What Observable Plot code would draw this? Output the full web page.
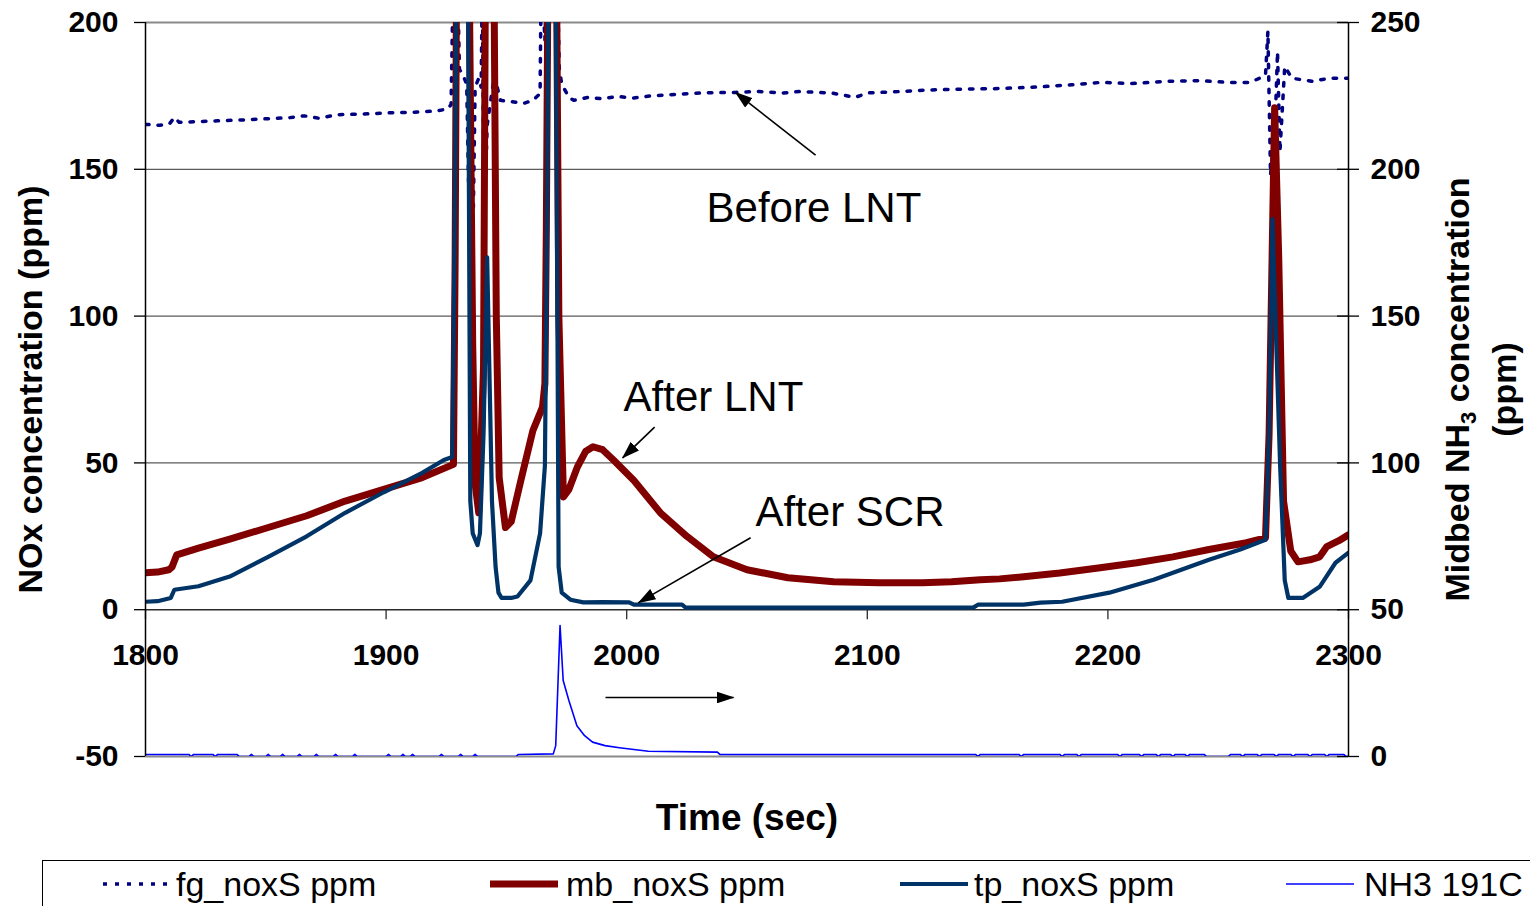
<!DOCTYPE html>
<html>
<head>
<meta charset="utf-8">
<script src="https://cdn.jsdelivr.net/npm/d3@7"></script>
<script src="https://cdn.jsdelivr.net/npm/@observablehq/plot@0.6"></script>
<style>
  html, body { margin: 0; padding: 0; background: #fff; overflow: hidden; width: 1530px; height: 906px; }
  #chart { position: absolute; left: 0; top: 0; }
  #legend { position: absolute; left: 42px; top: 860px; width: 1600px; height: 120px; border: 1.5px solid #000; box-sizing: border-box; background: #fff; font-family: 'Liberation Sans', Arial, sans-serif; }
  .item { position: absolute; top: 0; height: 46px; display: flex; align-items: center; }
  .item span { font-size: 34px; color: #000; white-space: nowrap; }
</style>
</head>
<body>
<div id="chart"></div>
<div id="legend"></div>
<script>
// ---------- data (time in sec, concentration in ppm) ----------
const seriesNames = ["fg_noxS ppm", "mb_noxS ppm", "tp_noxS ppm", "NH3 191C"];

// Before LNT (left axis)
const fgData = [[1800,165.3],[1806,165],[1810,165.5],[1812,167.7],[1814,166],[1820,166.2],[1830,166.5],[1840,166.8],[1850,167.2],[1860,167.6],[1866,168.2],[1872,167.4],[1880,168.6],[1890,168.8],[1900,169.2],[1910,169.4],[1920,169.8],[1925.5,170.5],[1927,172],[1928,220],[1929.5,220],[1930.5,184],[1932,182],[1933.5,179],[1935.5,93],[1937,178],[1938.5,181],[1939.5,178],[1940,215],[1940.7,128],[1942,165],[1945,182],[1947.5,173.5],[1952.5,173],[1957,172.4],[1961,173.5],[1964,175.8],[1964.5,220],[1966,194],[1967,220],[1971,220],[1972,184],[1973,179],[1976,174.5],[1978,173.5],[1984,174.5],[1990,174],[1996,174.8],[2003,174.3],[2010,175],[2020,175.5],[2031,176],[2045,176.2],[2055,176.5],[2065,176],[2072,176.5],[2085,176],[2095,174.5],[2100,176],[2114,176.5],[2125,177],[2140,177.3],[2155,177.5],[2170,178],[2185,178.8],[2197,179.6],[2210,179.2],[2225,180],[2238,180.2],[2250,179.6],[2259,179.6],[2263,181],[2265.5,182],[2266.5,197],[2267.6,148],[2269.5,165],[2270.5,190],[2271.5,156],[2273.5,185],[2276.5,181],[2285,180],[2292,181],[2300,181]];

// After LNT (left axis)
const mbData = [[1800,12.6],[1805,12.8],[1809.7,13.6],[1811,14.5],[1813,18.7],[1822,21],[1835,24],[1851,28],[1867,32],[1883,37],[1899,41],[1915,45],[1928,49.5],[1928.7,120],[1929.3,220],[1934.5,220],[1936,90],[1937,43],[1938.5,33],[1939.2,49],[1940.5,83],[1941.3,220],[1944.8,220],[1945.8,100],[1947,45],[1949.6,28],[1952,30],[1956,44],[1961,61],[1965,69],[1966,77],[1966.6,130],[1967.3,220],[1970.8,220],[1971.8,100],[1973.7,38.4],[1976,41],[1979.5,48.6],[1983,54],[1986,55.5],[1990,54.5],[1994.5,51],[2003,44],[2014,33],[2025,25],[2036,18],[2050,13.6],[2067,10.9],[2086,9.5],[2105,9.2],[2123,9.2],[2135,9.5],[2147,10.2],[2155,10.5],[2165,11.2],[2180,12.5],[2196,14.2],[2212,16],[2227,18],[2242,20.5],[2257.6,22.8],[2265.5,24.5],[2267,60],[2269.3,171],[2271,120],[2273,37],[2276,20],[2279,16.3],[2284,17],[2288,18],[2291,21.5],[2296,23.5],[2300,25.5]];

// After SCR (left axis)
const tpData = [[1800,2.7],[1805,2.9],[1810.5,4],[1812,6.8],[1822,8],[1835,11.3],[1851,18],[1867,25],[1883,33],[1899,40],[1915,46.6],[1924,51],[1927.5,52],[1928.5,130],[1929.3,220],[1934,220],[1935,37],[1936,26],[1938,22],[1939,26],[1940.5,60],[1942,120],[1944,37],[1945.5,14.6],[1946.7,5.8],[1948,4],[1952,4],[1954.6,4.5],[1960,10],[1964,26],[1966,49],[1966.8,120],[1967.5,220],[1970.5,220],[1971.7,14.6],[1973,5.8],[1976.6,3.4],[1982,2.5],[1990,2.6],[2001,2.5],[2003,1.7],[2023,1.7],[2024.5,0.7],[2060,0.7],[2100,0.7],[2144,0.7],[2146,1.7],[2165,1.7],[2172,2.4],[2181,2.7],[2200.6,5.8],[2219,10.2],[2242,17],[2255,20.5],[2265.5,23.8],[2267,60],[2268.4,133],[2270,90],[2271.6,48.7],[2273.5,10],[2275,4],[2281,4],[2288,7.8],[2294.6,16],[2300,19.4]];

// Midbed NH3 (right axis)
const nh3Data = [[1800,0.7],[1818,0.7],[1819,0],[1820,0.7],[1828,0.7],[1829,0],[1830,0.7],[1838,0.7],[1839,0],
  [1843,0],[1844,0.7],[1845,0],[1850,0],[1851,0.7],[1852,0],[1856,0],[1857,0.7],[1858,0],[1863,0],[1864,0.7],[1865,0],
  [1870,0],[1871,0.7],[1872,0],[1878,0],[1879,0.7],[1880,0],[1886,0],[1887,0.7],[1888,0],[1900,0],[1901,0.7],[1902,0],
  [1906,0],[1907,0.7],[1908,0],[1910,0],[1911,0.7],[1912,0],[1922,0],[1923,0.7],[1924,0],[1930,0],[1931,0.7],[1932,0],
  [1936,0],[1937,0.7],[1938,0],[1954,0],[1955,0.7],
  [1969.5,0.9],[1970.5,3.7],[1972.3,44.6],[1973.6,25.9],[1976,19],[1979.3,10.5],[1982.5,7.1],[1985.8,4.9],[1991,3.7],[1997,3],[2009,1.8],[2037.7,1.5],[2038.7,0.7],
  [2145,0.7],[2146,0],[2147,0.7],[2163,0.7],[2164,0],[2165,0.7],[2180,0.7],[2181,0],[2182,0.7],[2187,0.7],[2188,0],[2189,0.7],
  [2204,0.7],[2205,0],[2206,0.7],[2213,0.7],[2214,0],[2215,0.7],[2220,0.7],[2221,0],[2222,0.7],[2226,0.7],[2227,0],[2228,0.7],
  [2232,0.7],[2233,0],[2234,0.7],[2240,0.7],[2241,0],[2250,0],[2251,0.7],[2255,0.7],[2256,0],[2257,0.7],[2262,0.7],[2263,0],[2264,0.7],
  [2269,0.7],[2270,0],[2271,0.7],[2276,0.7],[2277,0],[2278,0.7],[2283,0.7],[2284,0],[2285,0.7],[2290,0.7],[2291,0],[2292,0.7],
  [2298,0.7],[2299,0],[2300,0]];

const xTicks = [1800, 1900, 2000, 2100, 2200, 2300];
const leftTicks = [-50, 0, 50, 100, 150, 200];
const rightTicks = [0, 50, 100, 150, 200, 250];
const gridLines = [50, 100, 150];
const rightOffset = 50; // right axis value = left axis value + 50

const noteLabels = [
  {text: "Before LNT", t: 2033.2, v: 136.7},
  {text: "After LNT", t: 1998.7, v: 72.4},
  {text: "After SCR", t: 2053.5, v: 33}
];
const noteArrows = [
  {t1: 2078.5, v1: 154.8, t2: 2045.2, v2: 176.2},
  {t1: 2011.6, v1: 62.2, t2: 1998.3, v2: 51.7},
  {t1: 2051.5, v1: 24.5, t2: 2004.9, v2: 2.4},
  {t1: 1991.2, v1: -29.9, t2: 2044.4, v2: -29.9}
];

// ---------- drawing ----------
const FONT = "'Liberation Sans', Arial, Helvetica, sans-serif";
const toRows = (arr) => arr.map(([t, v]) => ({t, v}));

function filledArrow(color, context) {
  const doc = (context && context.document) || document;
  const NS = "http://www.w3.org/2000/svg";
  const m = doc.createElementNS(NS, "marker");
  m.setAttribute("viewBox", "0 -6 18 12");
  m.setAttribute("markerWidth", 18);
  m.setAttribute("markerHeight", 12);
  m.setAttribute("markerUnits", "userSpaceOnUse");
  m.setAttribute("refX", 17);
  m.setAttribute("refY", 0);
  m.setAttribute("orient", "auto");
  const p = doc.createElementNS(NS, "path");
  p.setAttribute("d", "M0,-6L18,0L0,6Z");
  p.setAttribute("fill", "#000");
  p.setAttribute("stroke", "none");
  m.appendChild(p);
  return m;
}

const plot = Plot.plot({
  width: 1530,
  height: 856,
  marginLeft: 145,
  marginRight: 182,
  marginTop: 22,
  marginBottom: 100,
  x: {domain: [1800, 2300], axis: null},
  y: {domain: [-50, 200], axis: null},
  style: {fontFamily: FONT, background: "#fff", overflow: "visible"},
  marks: [
    Plot.ruleY(gridLines, {stroke: "#5a5a5a", strokeWidth: 1.2}),
    Plot.ruleY([200], {stroke: "#8a8a8a", strokeWidth: 2.2}),
    Plot.ruleY([-50], {stroke: "#8a8a8a", strokeWidth: 2.2}),
    Plot.ruleY([0], {stroke: "#2a2a2a", strokeWidth: 1.5}),
    Plot.ruleX(xTicks, {x: d => d, y1: 0, y2: 0, insetBottom: -10, stroke: "#2a2a2a", strokeWidth: 1.3}),
    Plot.ruleY(leftTicks, {y: d => d, x1: 1800, x2: 1800, insetLeft: -11, stroke: "#000", strokeWidth: 1.3}),
    Plot.ruleY(rightTicks, {y: d => d - rightOffset, x1: 2300, x2: 2300, insetLeft: -11, insetRight: -11, stroke: "#000", strokeWidth: 1.3}),

    Plot.line(toRows(fgData), {x: "t", y: "v", stroke: "#000080", strokeWidth: 3.5, strokeDasharray: "3.5,9", clip: true}),
    Plot.line(toRows(mbData), {x: "t", y: "v", stroke: "#800000", strokeWidth: 7, strokeLinejoin: "round", clip: true}),
    Plot.line(toRows(tpData), {x: "t", y: "v", stroke: "#003366", strokeWidth: 4.2, strokeLinejoin: "round", clip: true}),
    Plot.line(toRows(nh3Data), {x: "t", y: d => d.v - rightOffset, stroke: "#0000ff", strokeWidth: 1.6, clip: true}),

    Plot.text(leftTicks, {x: 1800, y: d => d, text: d => String(d), textAnchor: "end", dx: -27, fontSize: 30, fontWeight: "bold", fill: "#000"}),
    Plot.text(rightTicks, {x: 2300, y: d => d - rightOffset, text: d => String(d), textAnchor: "start", dx: 22, fontSize: 30, fontWeight: "bold", fill: "#000"}),
    Plot.text(xTicks, {x: d => d, y: 0, text: d => String(d), dy: 46, fontSize: 30, fontWeight: "bold", fill: "#000"}),

    Plot.ruleX([1800], {stroke: "#000", strokeWidth: 1.5}),
    Plot.ruleX([2300], {stroke: "#000", strokeWidth: 1.5}),

    Plot.text(["NOx concentration (ppm)"], {frameAnchor: "left", text: d => d, rotate: -90, dx: -114, textAnchor: "middle", lineAnchor: "middle", fontSize: 34, fontWeight: "bold", fill: "#000"}),
    Plot.text(["Midbed NH3 concentration"], {frameAnchor: "right", text: d => d, rotate: -90, dx: 110, textAnchor: "middle", lineAnchor: "middle", fontSize: 34, fontWeight: "bold", fill: "#000"}),
    Plot.text(["(ppm)"], {frameAnchor: "right", text: d => d, rotate: -90, dx: 157, textAnchor: "middle", lineAnchor: "middle", fontSize: 34, fontWeight: "bold", fill: "#000"}),
    Plot.text(["Time (sec)"], {frameAnchor: "bottom", text: d => d, dy: 62, textAnchor: "middle", lineAnchor: "middle", fontSize: 37, fontWeight: "bold", fill: "#000"}),

    Plot.text(noteLabels, {x: "t", y: "v", text: "text", textAnchor: "start", fontSize: 42, fill: "#000"}),
    Plot.link(noteArrows, {x1: "t1", y1: "v1", x2: "t2", y2: "v2", stroke: "#000", strokeWidth: 1.6, markerEnd: filledArrow})
  ]
});

// subscript in NH3 title
plot.querySelectorAll("text").forEach(el => {
  if (el.textContent === "Midbed NH3 concentration") {
    const NS = "http://www.w3.org/2000/svg";
    el.textContent = "";
    el.appendChild(document.createTextNode("Midbed NH"));
    const sub = document.createElementNS(NS, "tspan");
    sub.setAttribute("font-size", "22");
    sub.setAttribute("dy", "7");
    sub.textContent = "3";
    el.appendChild(sub);
    const rest = document.createElementNS(NS, "tspan");
    rest.setAttribute("dy", "-7");
    rest.textContent = " concentration";
    el.appendChild(rest);
  }
});

document.getElementById("chart").appendChild(plot);

// ---------- legend ----------
const legendStyles = [
  {color: "#000080", width: 3.5, dash: "4,8"},
  {color: "#800000", width: 7, dash: null},
  {color: "#003366", width: 4.2, dash: null},
  {color: "#0000ff", width: 1.6, dash: null}
];
const legendSampleLeft = [58, 445, 855, 1241];
const legendTextLeft = [133, 523, 931, 1321];
const legend = document.getElementById("legend");
seriesNames.forEach((name, i) => {
  const s = legendStyles[i];
  const sample = document.createElement("div");
  sample.className = "item";
  sample.style.left = legendSampleLeft[i] + "px";
  sample.innerHTML = `<svg width="72" height="46"><line x1="2" x2="70" y1="23" y2="23" stroke="${s.color}" stroke-width="${s.width}" ${s.dash ? `stroke-dasharray="${s.dash}"` : ""}/></svg>`;
  legend.appendChild(sample);
  const label = document.createElement("div");
  label.className = "item";
  label.style.left = legendTextLeft[i] + "px";
  label.innerHTML = `<span>${name}</span>`;
  legend.appendChild(label);
});
</script>
</body>
</html>
